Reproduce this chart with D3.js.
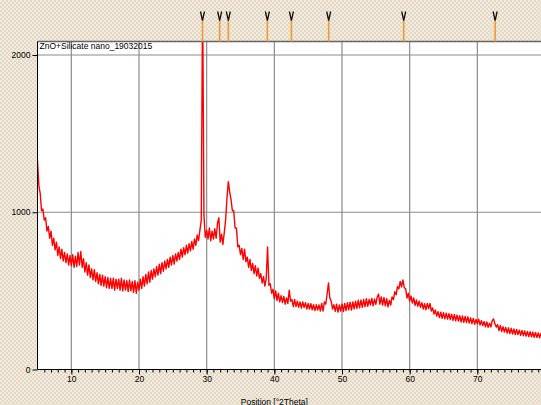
<!DOCTYPE html>
<html>
<head>
<meta charset="utf-8">
<script src="https://d3js.org/d3.v7.min.js"></script>
<style>
  body { margin: 0; padding: 0; overflow: hidden; }
  svg { display: block; font-family: "Liberation Sans", Arial, sans-serif; }
</style>
</head>
<body>
<script>
//Scan settings (°2Theta)
var startAngle = 5,
    stepSize = 0.2;

//Counts, one per step from 5.0 to 80.0
var counts = [
  1330, 1170, 1120, 1010, 1020,
  950, 965, 880, 910, 835,
  880, 790, 835, 760, 810,
  725, 780, 705, 765, 690,
  745, 680, 735, 665, 725,
  660, 730, 650, 720, 655,
  745, 665, 750, 650, 705,
  620, 680, 600, 665, 585,
  640, 570, 635, 560, 615,
  545, 605, 535, 600, 530,
  590, 520, 585, 515, 580,
  515, 580, 505, 575, 515,
  575, 505, 580, 500, 570,
  505, 565, 495, 570, 500,
  560, 490, 565, 485, 555,
  505, 575, 515, 590, 530,
  605, 545, 620, 555, 630,
  575, 640, 590, 655, 600,
  670, 610, 680, 625, 690,
  640, 700, 650, 715, 665,
  725, 670, 735, 690, 745,
  700, 765, 715, 775, 730,
  790, 740, 800, 755, 815,
  765, 830, 790, 855, 820,
  885, 950, 2400, 980, 840,
  885, 830, 900, 820, 880,
  830, 895, 835, 930, 965,
  810, 860, 795, 870, 950,
  1090, 1195, 1130, 1080, 1010,
  1010, 900, 900, 780, 790,
  730, 770, 700, 765, 685,
  715, 650, 700, 630, 675,
  610, 660, 595, 645, 580,
  610, 550, 590, 530, 580,
  780, 535, 545, 485, 510,
  450, 500, 440, 485, 430,
  470, 425, 465, 415, 455,
  420, 505, 435, 445, 400,
  445, 400, 435, 395, 430,
  390, 430, 395, 425, 385,
  420, 385, 418, 380, 412,
  375, 412, 378, 410, 372,
  420, 372, 430, 415, 480,
  550, 455, 435, 385, 412,
  370, 415, 365, 410, 372,
  415, 368, 420, 375, 425,
  380, 428, 378, 430, 385,
  435, 388, 440, 392, 442,
  395, 445, 400, 450, 402,
  445, 410, 452, 405, 448,
  415, 460, 480, 415, 462,
  410, 458, 405, 450, 398,
  440, 410, 462, 445, 495,
  475, 528, 512, 560, 525,
  570, 520, 515, 455, 485,
  435, 468, 422, 455, 408,
  442, 402, 435, 395, 425,
  385, 418, 380, 420, 388,
  420, 372, 392, 352, 378,
  340, 368, 330, 365, 325,
  362, 322, 358, 320, 355,
  318, 352, 312, 350, 310,
  345, 308, 342, 302, 340,
  300, 338, 298, 335, 295,
  328, 292, 325, 288, 318,
  290, 320, 282, 310, 280,
  305, 272, 302, 268, 295,
  270, 310, 322, 290, 270,
  285, 248, 280, 242, 272,
  238, 268, 232, 265, 228,
  262, 226, 258, 222, 255,
  222, 250, 218, 248, 215,
  245, 212, 242, 210, 240,
  208, 238, 205, 235, 204,
  232, 202, 230, 200, 228,
  205
];

//Peak list positions (°2Theta)
var peakPositions = [29.38, 31.92, 33.2, 38.97, 42.52, 48.03, 59.12, 72.63];

//Axis ticks
var xTicks = [10, 20, 30, 40, 50, 60, 70];
var yTicks = [0, 1000, 2000];

var scanTitle = "ZnO+Silicate nano_19032015";
var xTitle = "Position [°2Theta]";

//Define Margin
var margin = {left: 37.5, right: -4, top: 41.5, bottom: 35.5},
    width = 541 - margin.left - margin.right,
    height = 405 - margin.top - margin.bottom;

var svg = d3.select("body")
    .append("svg")
    .attr("width", 541)
    .attr("height", 405);

//Beige dotted background
var defs = svg.append("defs");
var pat = defs.append("pattern")
    .attr("id", "bgdots")
    .attr("width", 4)
    .attr("height", 4)
    .attr("patternUnits", "userSpaceOnUse");
pat.append("rect").attr("width", 4).attr("height", 4).attr("fill", "#e4d8c4");
pat.append("rect").attr("width", 2).attr("height", 2).attr("fill", "#f1ebe0");
pat.append("rect").attr("x", 2).attr("y", 2).attr("width", 2).attr("height", 2).attr("fill", "#f1ebe0");

svg.append("rect")
    .attr("width", 541)
    .attr("height", 405)
    .attr("fill", "url(#bgdots)");

defs.append("clipPath")
    .attr("id", "plotclip")
    .append("rect")
    .attr("width", width)
    .attr("height", height);

var g = svg.append("g")
    .attr("transform", "translate(" + margin.left + "," + margin.top + ")");

//Scales
var x = d3.scaleLinear()
    .domain([5, 80])
    .range([0, width]);

var y = d3.scaleLinear()
    .domain([0, 2086])
    .range([height, 0]);

//Plot area
g.append("rect")
    .attr("width", width)
    .attr("height", height)
    .attr("fill", "#fff");

//Grid lines
g.selectAll(".vgrid")
    .data(xTicks)
    .enter().append("line")
    .attr("class", "vgrid")
    .attr("x1", function(d) { return x(d); })
    .attr("x2", function(d) { return x(d); })
    .attr("y1", 0)
    .attr("y2", height)
    .attr("stroke", "#8c8c8c")
    .attr("stroke-width", 1.2);

g.selectAll(".hgrid")
    .data(yTicks.slice(1))
    .enter().append("line")
    .attr("class", "hgrid")
    .attr("x1", 0)
    .attr("x2", width)
    .attr("y1", function(d) { return y(d); })
    .attr("y2", function(d) { return y(d); })
    .attr("stroke", "#8c8c8c")
    .attr("stroke-width", 1.2);

//Scan line
var line = d3.line()
    .x(function(d, i) { return x(startAngle + i * stepSize); })
    .y(function(d) { return y(d); });

g.append("path")
    .datum(counts)
    .attr("clip-path", "url(#plotclip)")
    .attr("fill", "none")
    .attr("stroke", "#ff0000")
    .attr("stroke-width", 1.4)
    .attr("stroke-linejoin", "round")
    .attr("d", line);

//Top border
g.append("line")
    .attr("x1", 0)
    .attr("x2", width)
    .attr("y1", 0)
    .attr("y2", 0)
    .attr("stroke", "#666")
    .attr("stroke-width", 1.5);

//Title inside plot
g.append("text")
    .attr("x", 2)
    .attr("y", 7.5)
    .attr("font-size", "8.5px")
    .attr("fill", "#000")
    .text(scanTitle);

//Y axis
g.append("g")
    .call(d3.axisLeft(y)
        .tickValues(yTicks)
        .tickSize(5)
        .tickPadding(2)
        .tickFormat(d3.format("d")))
    .call(function(a) {
        a.select(".domain").attr("stroke", "#000").attr("d", "M0,0V" + height);
        a.selectAll("text").attr("font-size", "8.5px").attr("fill", "#000").attr("font-family", null);
    });

//X axis minor ticks
g.append("g")
    .attr("transform", "translate(0," + height + ")")
    .call(d3.axisBottom(x)
        .tickValues(d3.range(6, 80))
        .tickSize(3)
        .tickFormat(""))
    .call(function(a) { a.select(".domain").remove(); });

//X axis major ticks
g.append("g")
    .attr("transform", "translate(0," + height + ")")
    .call(d3.axisBottom(x)
        .tickValues(xTicks)
        .tickSize(5)
        .tickPadding(1))
    .call(function(a) {
        a.select(".domain").attr("stroke", "#000").attr("d", "M0,0H" + width);
        a.selectAll("text").attr("font-size", "8.5px").attr("fill", "#000").attr("font-family", null);
    });

//X axis title
g.append("text")
    .attr("x", x(40))
    .attr("y", height + 35)
    .attr("text-anchor", "middle")
    .attr("font-size", "8.5px")
    .attr("fill", "#000")
    .text(xTitle);

//Peak markers above plot
var marks = g.selectAll(".peak")
    .data(peakPositions)
    .enter().append("g")
    .attr("class", "peak")
    .attr("transform", function(d) { return "translate(" + x(d) + ",0)"; });

marks.append("line")
    .attr("y1", -21)
    .attr("y2", 0)
    .attr("stroke", "#f39a2e")
    .attr("stroke-width", 1.6);

marks.append("path")
    .attr("d", "M-2,-30L0,-21L2,-30")
    .attr("fill", "none")
    .attr("stroke", "#111")
    .attr("stroke-width", 1.3);
</script>
</body>
</html>
